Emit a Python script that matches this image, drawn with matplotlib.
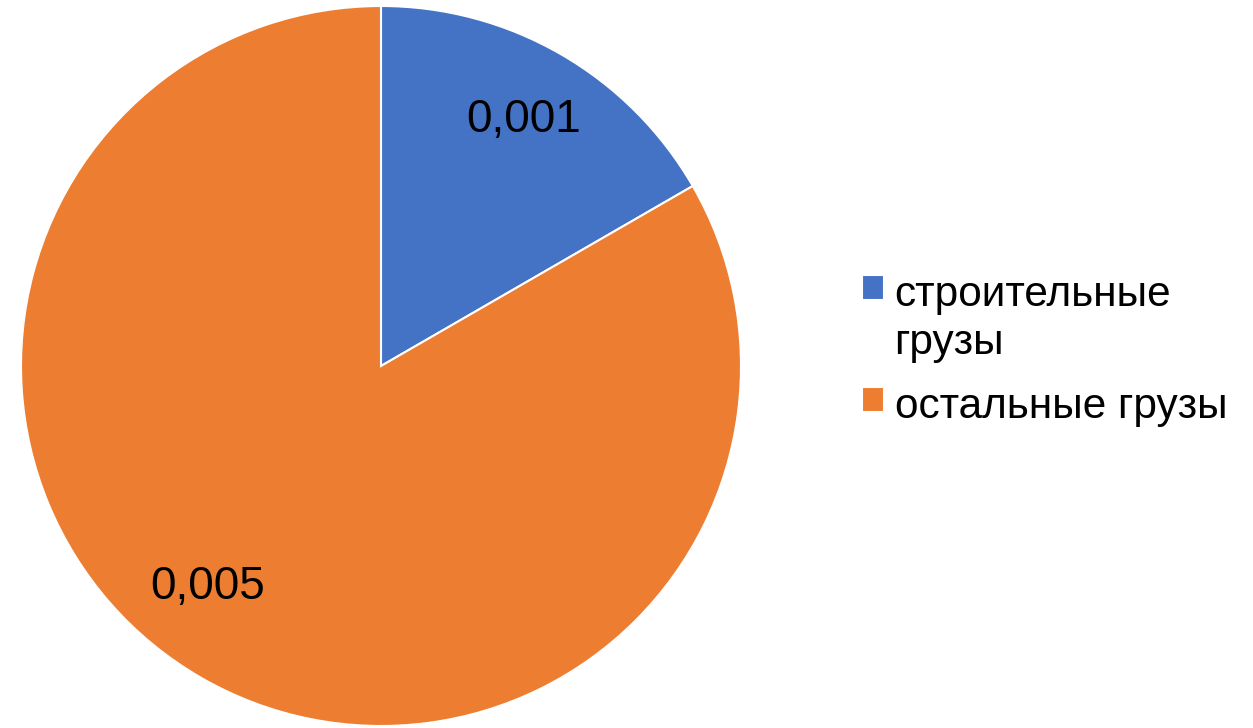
import matplotlib
matplotlib.use("Agg")
import matplotlib.pyplot as plt
import numpy as np

plt.rcParams['font.family'] = ['Liberation Sans', 'DejaVu Sans']

#data
categories = ['строительные\nгрузы', 'остальные грузы']
values = [0.001, 0.005]
colors = ['#4472C4', '#ED7D31']

fig = plt.figure(figsize=(12.53, 7.28), dpi=100)
ax = fig.add_axes([21/1253, 2/728, 720/1253, 720/728])

def fmt(pct):
    v = pct / 100 * sum(values)
    return ('%.3f' % v).replace('.', ',')

wedges, texts, autotexts = ax.pie(values, colors=colors, startangle=90, counterclock=False,
                                  autopct=fmt, pctdistance=0.79,
                                  wedgeprops=dict(edgecolor='white', linewidth=1.5),
                                  textprops=dict(fontsize=33, color='black'))
ax.set_xlim(-1, 1)
ax.set_ylim(-1, 1)
ax.set_aspect('equal')

#excel "best fit" puts the big label a bit off the slice middle
a = np.deg2rad(232)
autotexts[1].set_position((0.78*np.cos(a), 0.78*np.sin(a)))

leg = fig.legend(wedges, categories, loc='upper left', bbox_to_anchor=(862/1253, 1 - 275/728),
                 frameon=False, fontsize=30.5, handlelength=0.52, handleheight=0.52,
                 handletextpad=0.25, labelspacing=0.58, borderpad=0, borderaxespad=0)
for t in leg.get_texts():
    t.set_linespacing(1.25)
#square next to first line of the label, like excel
for col in leg._legend_handle_box.get_children():
    for row in col.get_children():
        row.align = 'top'

fig.savefig('out.png', dpi=100)
